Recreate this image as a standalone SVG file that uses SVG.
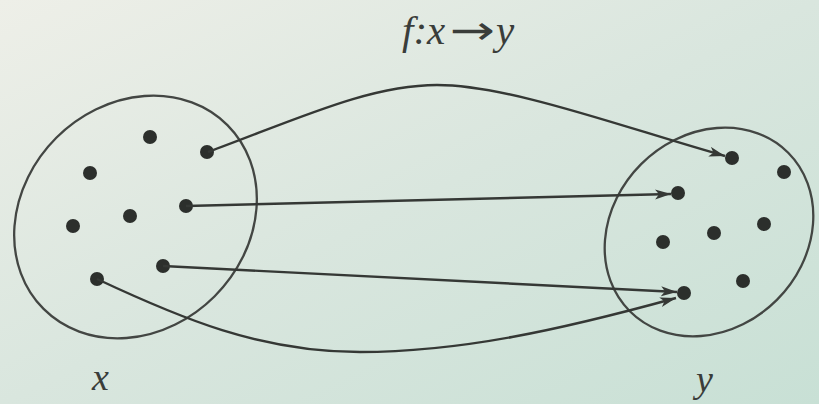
<svg xmlns="http://www.w3.org/2000/svg" width="819" height="404" viewBox="0 0 819 404">
  <defs>
    <linearGradient id="bg" x1="0" y1="0" x2="1" y2="1">
      <stop offset="0" stop-color="#eeefe8"/>
      <stop offset="0.5" stop-color="#d9e6de"/>
      <stop offset="1" stop-color="#c8e0d5"/>
    </linearGradient>
    <marker id="ah" markerUnits="userSpaceOnUse" markerWidth="18" markerHeight="12" refX="16" refY="5" orient="auto">
      <path d="M0,0 L16,5 L0,10 L4,5 z" fill="#353835"/>
    </marker>
  </defs>
  <style>
    .set { fill: none; stroke: #434643; stroke-width: 2.3; }
    .dot { fill: #2c2f2c; }
    .conn { fill: none; stroke: #353835; stroke-width: 2.4; marker-end: url(#ah); }
    .lbl { fill: #3a3d3a; font-family: "Liberation Serif", "DejaVu Serif", serif; font-style: italic; }
  </style>
  <rect width="819" height="404" fill="url(#bg)"/>

  <g id="title">
    <text class="lbl" x="402" y="44" font-size="41">f:x</text>
    <text transform="translate(450 44) scale(1.35 1)" x="0" y="0" font-size="40" font-family="'DejaVu Sans', sans-serif" fill="#3a3d3a">→</text>
    <text class="lbl" x="496" y="44" font-size="41">y</text>
  </g>

  <g id="setX">
    <ellipse class="set" cx="135.5" cy="217" rx="130" ry="112" transform="rotate(-45 135.5 217)"/>
    <circle class="dot" cx="150" cy="137" r="7"/>
    <circle class="dot" cx="207" cy="152" r="7"/>
    <circle class="dot" cx="90" cy="173" r="7"/>
    <circle class="dot" cx="186" cy="206" r="7"/>
    <circle class="dot" cx="130" cy="216" r="7"/>
    <circle class="dot" cx="73" cy="226" r="7"/>
    <circle class="dot" cx="163" cy="266" r="7"/>
    <circle class="dot" cx="97" cy="279" r="7"/>
    <text class="lbl" x="92" y="390" font-size="38">x</text>
  </g>

  <g id="setY">
    <ellipse class="set" cx="709" cy="232" rx="112" ry="96" transform="rotate(-45 709 232)"/>
    <circle class="dot" cx="732" cy="158" r="7"/>
    <circle class="dot" cx="784" cy="172" r="7"/>
    <circle class="dot" cx="678" cy="193" r="7"/>
    <circle class="dot" cx="764" cy="224" r="7"/>
    <circle class="dot" cx="714" cy="233" r="7"/>
    <circle class="dot" cx="663" cy="242" r="7"/>
    <circle class="dot" cx="743" cy="281" r="7"/>
    <circle class="dot" cx="684" cy="293" r="7"/>
    <text class="lbl" x="696" y="392" font-size="38">y</text>
  </g>

  <g id="connectors">
    <path class="conn" d="M208,152 C300,118 370,85 437,85 C510,85 625,128 725,156"/>
    <path class="conn" d="M186,206 L671,194"/>
    <path class="conn" d="M163,266 L677,292"/>
    <path class="conn" d="M97,279 C180,318 260,352 360,352 C460,352 560,330 676,298"/>
  </g>
</svg>
